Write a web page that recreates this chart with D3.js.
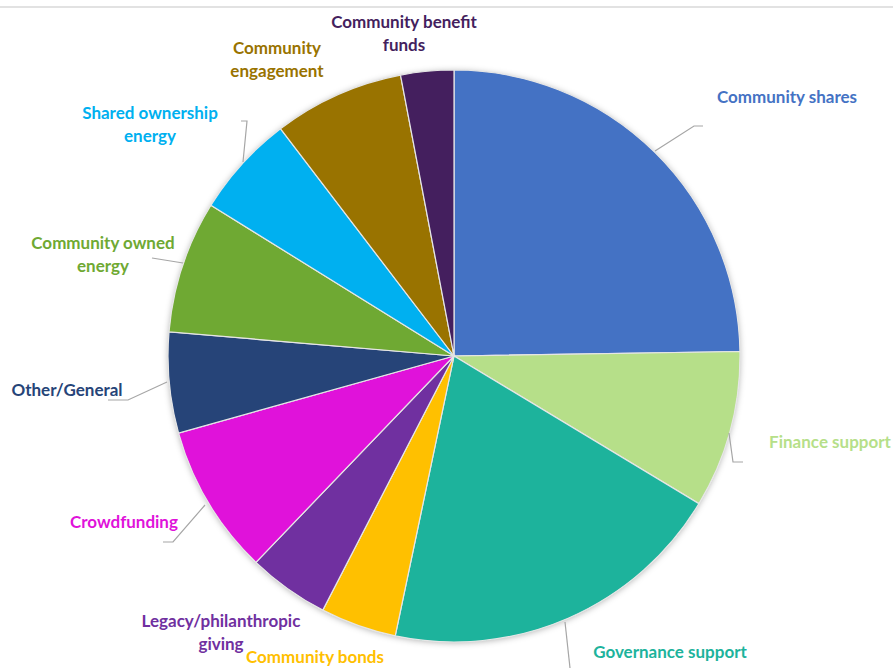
<!DOCTYPE html>
<html>
<head>
<meta charset="utf-8">
<script src="https://cdn.jsdelivr.net/npm/d3@7"></script>
<style>
  html, body { margin: 0; padding: 0; background: #fff; }
  svg { display: block; }
  .lbl { font-family: Lato, "Open Sans", sans-serif; font-weight: bold; font-size: 17px; }
</style>
</head>
<body>
<div id="chart"></div>
<script>
// categories, clockwise from 12 o'clock
var categories = [
    "Community shares", "Finance support", "Governance support", "Community bonds",
    "Legacy/philanthropic giving", "Crowdfunding", "Other/General", "Community owned energy",
    "Shared ownership energy", "Community engagement", "Community benefit funds"
];
// share of total (%)
var values = [24.8, 8.9, 19.7, 4.3, 4.6, 8.5, 5.7, 7.5, 5.8, 7.4, 3.0];
var colors = [
    "#4472C4", "#B6DF89", "#1DB39C", "#FFC000", "#7030A0", "#E012DA",
    "#264478", "#6FA933", "#00B0F0", "#997300", "#441F5E"
];
// label lines as they are wrapped in the picture
var labelLines = [
    ["Community shares"], ["Finance support"], ["Governance support"], ["Community bonds"],
    ["Legacy/philanthropic", "giving"], ["Crowdfunding"], ["Other/General"],
    ["Community owned", "energy"], ["Shared ownership", "energy"],
    ["Community", "engagement"], ["Community benefit", "funds"]
];

var width = 893, height = 668;
var cx = 454, cy = 356, radius = 286;

// label placement (centre of first line) and leader lines, page pixels
var labelPos = [
    [787, 99], [830, 444], [670, 654], [315, 659], [221, 623], [124, 524],
    [67, 392], [103, 245], [150, 115], [277, 50], [404, 24]
];
var leaders = [
    [[655, 151], [694, 126], [703, 126]],
    [[729, 433], [733, 462], [743, 462]],
    [[565, 622], [570, 668]],
    null, null,
    [[205, 505], [173, 542], [163, 542]],
    [[167, 382], [128, 400], [108, 400]],
    [[183, 263], [152, 258]],
    [[243, 162], [247, 121], [241, 121]],
    null, null
];

var svg = d3.select("#chart").append("svg")
    .attr("width", width)
    .attr("height", height);

var defs = svg.append("defs");
var shadow = defs.append("filter").attr("id", "shadow")
    .attr("x", "-10%").attr("y", "-10%").attr("width", "120%").attr("height", "120%");
shadow.append("feDropShadow")
    .attr("dx", 0).attr("dy", 1)
    .attr("stdDeviation", 3)
    .attr("flood-color", "#000")
    .attr("flood-opacity", 0.3);

// thin rule at the top of the frame
svg.append("line")
    .attr("x1", 0).attr("x2", width)
    .attr("y1", 7).attr("y2", 7)
    .attr("stroke", "#d9d9d9")
    .attr("stroke-width", 1.5);

var data = categories.map(function (c, i) {
    return { label: c, value: values[i], color: colors[i], lines: labelLines[i] };
});

var pie = d3.pie().sort(null).value(function (d) { return d.value; });
var arc = d3.arc().innerRadius(0).outerRadius(radius);

var g = svg.append("g").attr("transform", "translate(" + cx + "," + cy + ")");

g.append("circle")
    .attr("r", radius)
    .attr("fill", "#fff")
    .attr("filter", "url(#shadow)");

g.selectAll("path.slice")
    .data(pie(data))
    .enter().append("path")
    .attr("class", "slice")
    .attr("d", arc)
    .attr("fill", function (d) { return d.data.color; })
    .attr("stroke", "#e6e6e6")
    .attr("stroke-width", 1.2);

// leader lines
var lineGen = d3.line();
leaders.forEach(function (pts) {
    if (!pts) return;
    svg.append("path")
        .attr("d", lineGen(pts))
        .attr("fill", "none")
        .attr("stroke", "#a6a6a6")
        .attr("stroke-width", 1.2);
});

// labels
data.forEach(function (d, i) {
    var t = svg.append("text")
        .attr("class", "lbl")
        .attr("x", labelPos[i][0])
        .attr("y", labelPos[i][1])
        .attr("text-anchor", "middle")
        .attr("dominant-baseline", "middle")
        .attr("fill", d.color);
    d.lines.forEach(function (line, k) {
        t.append("tspan")
            .attr("x", labelPos[i][0])
            .attr("dy", k === 0 ? 0 : 23)
            .text(line);
    });
});
</script>
</body>
</html>
